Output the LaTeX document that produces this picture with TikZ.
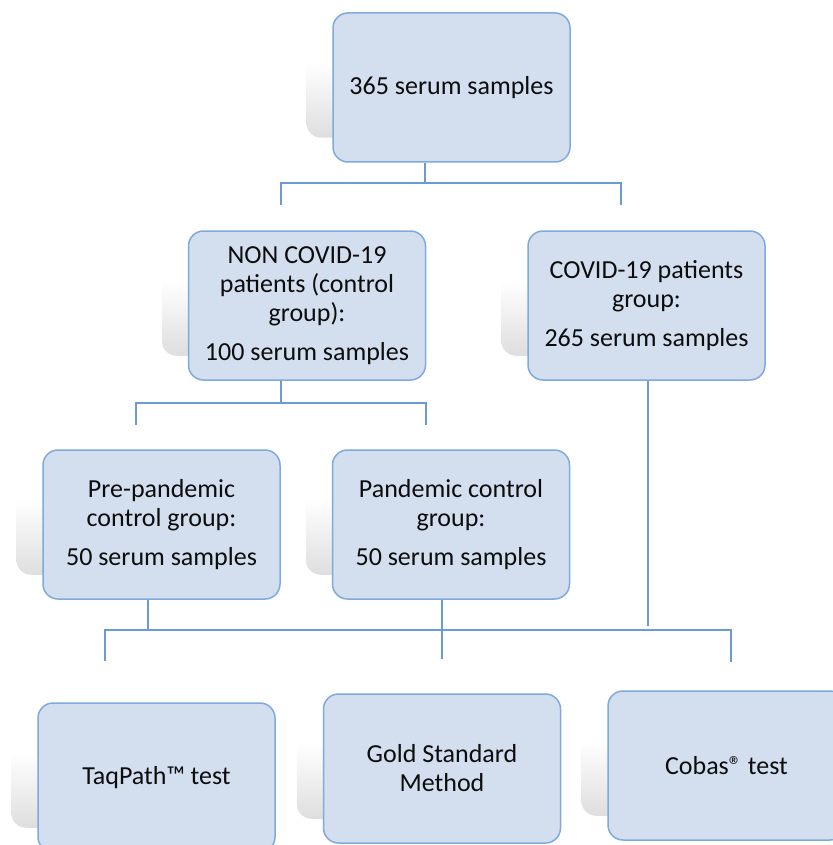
\documentclass[tikz,border=0pt]{standalone}
\usepackage{fontspec}
\setmainfont{Carlito}
\usetikzlibrary{backgrounds,calc}
\definecolor{boxfill}{HTML}{D3DEEF}
\definecolor{boxline}{HTML}{7FAADC}
\definecolor{connc}{HTML}{6B9BD6}
\begin{document}
\begin{tikzpicture}[x=1pt,y=-1pt,
  box/.style={draw=boxline, line width=1.5pt, fill=boxfill, rounded corners=15pt,
    minimum width=237pt, minimum height=149pt, align=center,
    font=\fontsize{26}{29}\selectfont, text=black!95, inner sep=0pt},
  conn/.style={draw=connc, line width=1.8pt},
  shadowbox/.style={rounded corners=15pt, top color=white, bottom color=black!13, middle color=white}
]
\useasboundingbox (0,0) rectangle (832,845);
\node[box] (top) at (451.5,87.5) {365 serum samples};
\node[box] (non) at (307,305.5) {NON COVID-19\\patients (control\\group):\\[10pt]100 serum samples};
\node[box] (cov) at (646.5,305.5) {COVID-19 patients\\group:\\[10pt]265 serum samples};
\node[box] (pre) at (161.5,524.5) {Pre-pandemic\\control group:\\[10pt]50 serum samples};
\node[box] (pan) at (451,524.5) {Pandemic control\\group:\\[10pt]50 serum samples};
\node[box] (taq) at (156.5,777.5) {TaqPath™ test};
\node[box] (gold) at (442,768.5) {Gold Standard\\Method};
\node[box] (cob) at (726.5,765.5) {Cobas® test};
\begin{scope}[on background layer]
\foreach \n in {top,non,cov,pre,pan,taq,gold,cob}{
  \shade[shadowbox] ($(\n.north west)+(-26,-25)$) rectangle ($(\n.south east)+(-26,-25)$);
}
\end{scope}
% level 1 connectors
\draw[conn] ([xshift=-26.5pt]top.south) -- (425,183) coordinate (j1);
\coordinate (j1l) at (281,183);
\coordinate (j1r) at (621,183);
\draw[conn] (281,205) -- (j1l) -- (j1r) -- (621,205);
% level 2 connectors
\draw[conn] ([xshift=-26pt]non.south) -- (281,403) coordinate (j2);
\coordinate (j2l) at (136,403);
\coordinate (j2r) at (426,403);
\draw[conn] (136,425) -- (j2l) -- (j2r) -- (426,425);
% bottom bus
\coordinate (bl) at (105,630);
\coordinate (br) at (731,630);
\draw[conn] (105,661) -- (bl) -- (br) -- (731,662);
\draw[conn] ([xshift=-13.5pt]pre.south) -- (148,630);
\draw[conn] ([xshift=-9pt]pan.south) -- (442,659);
\draw[conn] ([xshift=1.5pt]cov.south) -- (648,626);
\end{tikzpicture}
\end{document}
